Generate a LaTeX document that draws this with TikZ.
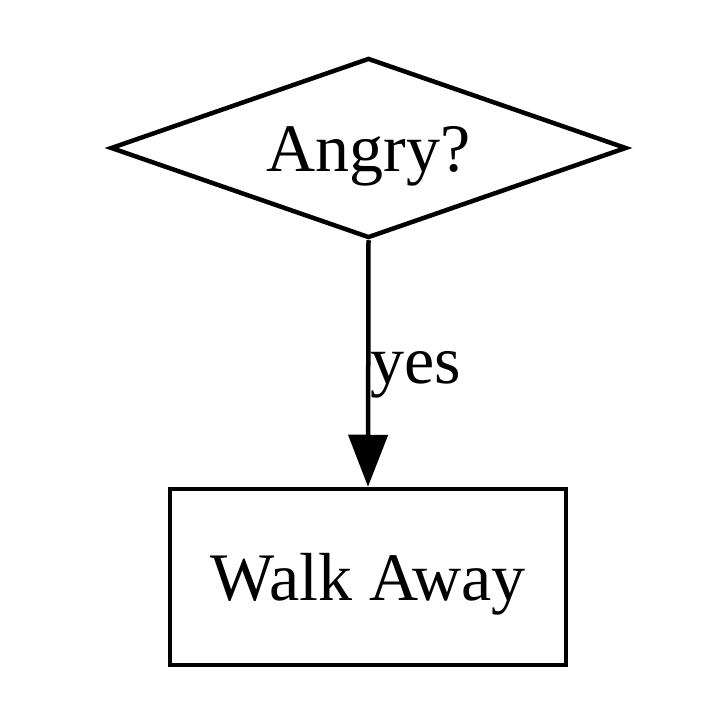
\documentclass[tikz,border=0pt]{standalone}
\usepackage{fontspec}
\setmainfont{Liberation Serif}
\usetikzlibrary{shapes.geometric,arrows.meta}
\begin{document}
\begin{tikzpicture}[x=1pt,y=1pt,
  every node/.style={font=\fontsize{68}{80}\selectfont},
  lw/.style={line width=4.5pt},
  decision/.style={diamond, aspect=2.84, draw, lw, minimum width=516pt, minimum height=180pt, inner sep=0pt, text height=47pt, text depth=0pt},
  action/.style={rectangle, draw, lw, minimum width=396pt, minimum height=176pt, inner sep=0pt, text height=47pt, text depth=0pt},
  flow/.style={lw, -{Triangle[length=52pt,width=39pt]}}]
\useasboundingbox (0,0) rectangle (728,724);
\node[decision] (angry) at (368.5,576) {Angry?};
\node[action] (walk) at (368,147) {Walk Away};
\draw[flow] (angry.south) -- (walk.north);
\node[anchor=base west, inner sep=0pt] (yes) at (370,341) {yes};
\end{tikzpicture}
\end{document}
